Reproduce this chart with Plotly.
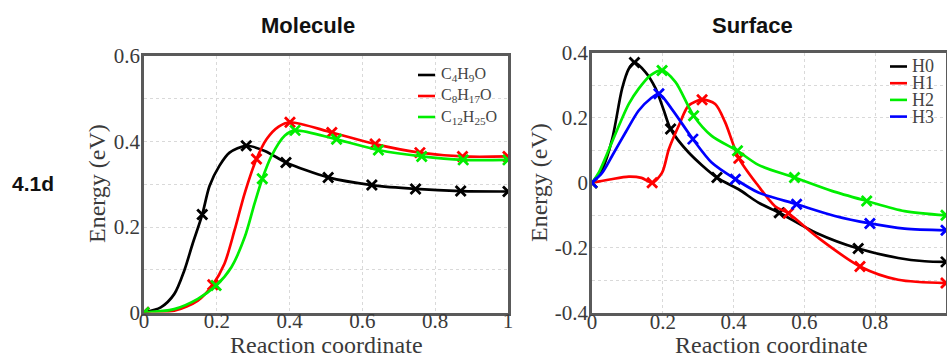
import plotly.graph_objects as go

W, H = 947, 355

# ---------------- Molecule panel data ----------------
mol_names = ["C<sub>4</sub>H<sub>9</sub>O", "C<sub>8</sub>H<sub>17</sub>O", "C<sub>12</sub>H<sub>25</sub>O"]
mol_colors = ["#000000", "#ff0000", "#00ee00"]

c4_curve_x = [0, 0.046, 0.083, 0.111, 0.134, 0.16, 0.18, 0.207, 0.235, 0.281, 0.332, 0.39, 0.506, 0.626, 0.746, 0.87, 1.0]
c4_curve_y = [0, 0.012, 0.043, 0.099, 0.162, 0.229, 0.296, 0.343, 0.374, 0.39, 0.378, 0.351, 0.316, 0.298, 0.289, 0.284, 0.283]
c4_mark_x = [0, 0.16, 0.281, 0.39, 0.506, 0.626, 0.746, 0.87, 1.0]
c4_mark_y = [0, 0.229, 0.39, 0.351, 0.316, 0.298, 0.289, 0.284, 0.283]

c8_curve_x = [0, 0.083, 0.148, 0.189, 0.221, 0.249, 0.277, 0.309, 0.337, 0.37, 0.401, 0.516, 0.635, 0.758, 0.875, 1.0]
c8_curve_y = [0, 0.004, 0.028, 0.065, 0.114, 0.193, 0.28, 0.359, 0.406, 0.435, 0.445, 0.421, 0.394, 0.374, 0.365, 0.365]
c8_mark_x = [0, 0.189, 0.309, 0.401, 0.516, 0.635, 0.758, 0.875, 1.0]
c8_mark_y = [0, 0.065, 0.359, 0.445, 0.421, 0.394, 0.374, 0.365, 0.365]

c12_curve_x = [0, 0.083, 0.148, 0.198, 0.24, 0.277, 0.304, 0.325, 0.35, 0.387, 0.415, 0.529, 0.644, 0.763, 0.877, 1.0]
c12_curve_y = [0, 0.008, 0.032, 0.063, 0.106, 0.177, 0.256, 0.313, 0.366, 0.414, 0.426, 0.405, 0.38, 0.365, 0.357, 0.357]
c12_mark_x = [0, 0.198, 0.325, 0.415, 0.529, 0.644, 0.763, 0.877, 1.0]
c12_mark_y = [0, 0.063, 0.313, 0.426, 0.405, 0.38, 0.365, 0.357, 0.357]

mol_x_ticks = [0, 0.2, 0.4, 0.6, 0.8, 1]
mol_x_ticktext = ["0", "0.2", "0.4", "0.6", "0.8", "1"]
mol_y_ticks = [0, 0.2, 0.4, 0.6]
mol_y_ticktext = ["0", "0.2", "0.4", "0.6"]

# ---------------- Surface panel data ----------------
surf_names = ["H0", "H1", "H2", "H3"]
surf_colors = ["#000000", "#ff0000", "#00ee00", "#0000ff"]

h0_curve_x = [0, 0.029, 0.057, 0.085, 0.104, 0.12, 0.151, 0.18, 0.203, 0.222, 0.273, 0.353, 0.414, 0.47, 0.529, 0.634, 0.752, 0.865, 0.94, 1.0]
h0_curve_y = [0, 0.042, 0.134, 0.289, 0.35, 0.369, 0.34, 0.289, 0.222, 0.165, 0.093, 0.016, -0.02, -0.061, -0.092, -0.154, -0.202, -0.231, -0.241, -0.243]
h0_mark_x = [0, 0.12, 0.222, 0.353, 0.529, 0.752, 1.0]
h0_mark_y = [0, 0.369, 0.165, 0.016, -0.092, -0.202, -0.243]

h1_curve_x = [0, 0.05, 0.104, 0.14, 0.17, 0.198, 0.217, 0.245, 0.273, 0.311, 0.348, 0.376, 0.415, 0.47, 0.517, 0.555, 0.639, 0.757, 0.865, 1.0]
h1_curve_y = [0, 0.01, 0.019, 0.015, 0.0, 0.031, 0.103, 0.175, 0.237, 0.255, 0.242, 0.186, 0.075, -0.01, -0.072, -0.094, -0.169, -0.257, -0.298, -0.308]
h1_mark_x = [0, 0.17, 0.311, 0.415, 0.555, 0.757, 1.0]
h1_mark_y = [0, 0.0, 0.255, 0.075, -0.094, -0.257, -0.308]

h2_curve_x = [0, 0.019, 0.048, 0.076, 0.104, 0.132, 0.165, 0.198, 0.236, 0.287, 0.338, 0.411, 0.47, 0.572, 0.677, 0.776, 0.883, 1.0]
h2_curve_y = [0, 0.031, 0.103, 0.175, 0.242, 0.289, 0.33, 0.345, 0.309, 0.206, 0.144, 0.098, 0.055, 0.016, -0.025, -0.056, -0.087, -0.10]
h2_mark_x = [0, 0.198, 0.287, 0.411, 0.572, 0.776, 1.0]
h2_mark_y = [0, 0.345, 0.206, 0.098, 0.016, -0.056, -0.10]

h3_curve_x = [0, 0.029, 0.057, 0.095, 0.132, 0.165, 0.189, 0.225, 0.285, 0.338, 0.405, 0.47, 0.578, 0.686, 0.785, 0.883, 1.0]
h3_curve_y = [0, 0.031, 0.083, 0.155, 0.222, 0.258, 0.273, 0.227, 0.134, 0.062, 0.011, -0.03, -0.066, -0.102, -0.125, -0.141, -0.146]
h3_mark_x = [0, 0.189, 0.285, 0.405, 0.578, 0.785, 1.0]
h3_mark_y = [0, 0.273, 0.134, 0.011, -0.066, -0.125, -0.146]

surf_x_ticks = [0, 0.2, 0.4, 0.6, 0.8]
surf_x_ticktext = ["0", "0.2", "0.4", "0.6", "0.8"]
surf_y_ticks = [-0.4, -0.2, 0, 0.2, 0.4]
surf_y_ticktext = ["-0.4", "-0.2", "0", "0.2", "0.4"]

# ---------------- figure ----------------
fig = go.Figure()

mol_series = [
    (c4_curve_x, c4_curve_y, c4_mark_x, c4_mark_y),
    (c8_curve_x, c8_curve_y, c8_mark_x, c8_mark_y),
    (c12_curve_x, c12_curve_y, c12_mark_x, c12_mark_y),
]
surf_series = [
    (h0_curve_x, h0_curve_y, h0_mark_x, h0_mark_y),
    (h1_curve_x, h1_curve_y, h1_mark_x, h1_mark_y),
    (h2_curve_x, h2_curve_y, h2_mark_x, h2_mark_y),
    (h3_curve_x, h3_curve_y, h3_mark_x, h3_mark_y),
]


def add_series(series, names, colors, xa, ya):
    for (cx, cy, mx, my), name, col in zip(series, names, colors):
        fig.add_trace(go.Scatter(x=cx, y=cy, mode="lines", name=name,
                                 line=dict(color=col, width=2.7, shape="spline", smoothing=0.8),
                                 xaxis=xa, yaxis=ya, showlegend=False, hoverinfo="skip"))
        fig.add_trace(go.Scatter(x=mx, y=my, mode="markers", name=name,
                                 marker=dict(symbol="x-thin-open", size=10, color=col,
                                             line=dict(color=col, width=2.8)),
                                 xaxis=xa, yaxis=ya, showlegend=False))


add_series(mol_series, mol_names, mol_colors, "x", "y")
add_series(surf_series, surf_names, surf_colors, "x2", "y2")

serif = "Liberation Serif"
tickfont = dict(family=serif, size=21, color="#3a3a3a")
gridc = "#d9d9d9"
axline = "#5a5a5a"


def px(x):
    return x / W


def py(y):
    return 1 - y / H


common_x = dict(range=[0, 1], showline=True, linecolor=axline, linewidth=2.5, mirror=True,
                ticks="", ticklen=0, ticklabelstandoff=-12, tickfont=tickfont, zeroline=False, showgrid=True,
                gridcolor=gridc, griddash="dot", gridwidth=1, tickmode="array")
common_y = dict(showline=True, linecolor=axline, linewidth=2.5, mirror=True,
                ticks="", ticklen=0, ticklabelstandoff=-3, tickfont=tickfont, zeroline=False, showgrid=True,
                gridcolor=gridc, griddash="dot", gridwidth=1, tickmode="array",
                minor=dict(tickmode="linear", tick0=0, dtick=0.1, showgrid=True,
                           gridcolor=gridc, griddash="dot", gridwidth=1, ticks=""))

fig.update_layout(
    width=W, height=H, margin=dict(l=0, r=0, t=0, b=0, autoexpand=False),
    plot_bgcolor="white", paper_bgcolor="white", showlegend=False,
    xaxis=dict(common_x, domain=[px(144), px(508)], anchor="y",
               tickvals=mol_x_ticks, ticktext=mol_x_ticktext),
    yaxis=dict(common_y, domain=[py(312.5), py(56)], anchor="x", range=[0, 0.6],
               tickvals=mol_y_ticks, ticktext=mol_y_ticktext),
    xaxis2=dict(common_x, domain=[px(592), px(946)], anchor="y2",
                tickvals=surf_x_ticks, ticktext=surf_x_ticktext),
    yaxis2=dict(common_y, domain=[py(313), py(52.5)], anchor="x2", range=[-0.4, 0.4],
                tickvals=surf_y_ticks, ticktext=surf_y_ticktext),
)

ann = []
shapes = []
title_font = dict(family="Arial, Liberation Sans, sans-serif", size=22, color="#111111")
ann.append(dict(text="<b>Molecule</b>", x=px(308), y=py(25), xref="paper", yref="paper",
                showarrow=False, font=title_font, xanchor="center", yanchor="middle"))
ann.append(dict(text="<b>Surface</b>", x=px(752), y=py(25), xref="paper", yref="paper",
                showarrow=False, font=title_font, xanchor="center", yanchor="middle"))
ann.append(dict(text="<b>4.1d</b>", x=px(33), y=py(183), xref="paper", yref="paper",
                showarrow=False, font=dict(family="Arial, Liberation Sans, sans-serif", size=21, color="#111111"),
                xanchor="center", yanchor="middle"))

axtitle_font = dict(family=serif, size=24, color="#3a3a3a")
for cx, cy in [(97, 184), (539, 183)]:
    ann.append(dict(text="Energy (eV)", x=px(cx), y=py(cy), xref="paper", yref="paper",
                    showarrow=False, textangle=-90, font=axtitle_font,
                    xanchor="center", yanchor="middle"))
for cx in [326, 771]:
    ann.append(dict(text="Reaction coordinate", x=px(cx), y=py(345), xref="paper", yref="paper",
                    showarrow=False, font=axtitle_font, xanchor="center", yanchor="middle"))

# manual legends
leg_font = dict(family=serif, size=16, color="#444444")
for i, (name, col) in enumerate(zip(mol_names, mol_colors)):
    yy = 75 + i * 21
    shapes.append(dict(type="line", xref="paper", yref="paper", x0=px(418), x1=px(435),
                       y0=py(yy), y1=py(yy), line=dict(color=col, width=2.6)))
    ann.append(dict(text=name, x=px(439), y=py(yy), xref="paper", yref="paper", showarrow=False,
                    font=leg_font, xanchor="left", yanchor="middle"))

leg_font2 = dict(family=serif, size=18, color="#444444")
for i, (name, col) in enumerate(zip(surf_names, surf_colors)):
    yy = 66.5 + i * 16.7
    shapes.append(dict(type="line", xref="paper", yref="paper", x0=px(890), x1=px(907),
                       y0=py(yy), y1=py(yy), line=dict(color=col, width=2.6)))
    ann.append(dict(text=name, x=px(910), y=py(yy), xref="paper", yref="paper", showarrow=False,
                    font=leg_font2, xanchor="left", yanchor="middle"))

fig.update_layout(annotations=ann, shapes=shapes)
fig.write_html("out.html", config={"displayModeBar": False},
               post_script="document.body.style.margin='0';document.body.style.overflow='hidden';")
